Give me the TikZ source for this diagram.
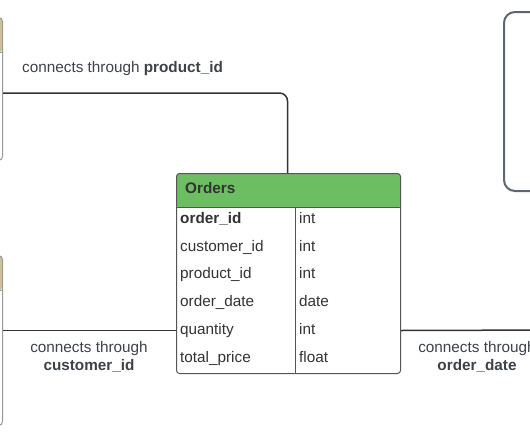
\documentclass[tikz,border=0pt]{standalone}
\usepackage{fontspec}
\setmainfont{Liberation Sans}
\definecolor{tanhead}{HTML}{CCC099}
\definecolor{greenhead}{HTML}{6DBE63}
\definecolor{txt}{HTML}{333333}
\definecolor{lbl}{HTML}{3D4148}
\definecolor{boxline}{HTML}{9A9A9A}
\definecolor{tblline}{HTML}{555555}
\definecolor{bigline}{HTML}{5F6670}
\begin{document}
\begin{tikzpicture}[x=1pt,y=-1pt,
  every node/.style={font=\fontsize{15.3}{18}\selectfont, text=txt, inner sep=0pt},
  sidebox/.style={draw=boxline, line width=1pt, rounded corners=4pt, fill=white,
    path picture={\fill[tanhead] (path picture bounding box.north west) rectangle ([yshift=-35pt]path picture bounding box.north east);
      \draw[boxline, line width=1pt] ([yshift=-35pt]path picture bounding box.north west) -- ([yshift=-35pt]path picture bounding box.north east);}},
  tbl/.style={draw=tblline, line width=1pt, rounded corners=3pt, fill=white,
    path picture={\fill[greenhead] (path picture bounding box.north west) rectangle ([yshift=-34pt]path picture bounding box.north east);}},
  conn/.style={draw=txt, line width=1.5pt, rounded corners=8pt},
  cell/.style={anchor=west},
  lab/.style={text=lbl, align=center}
]
\useasboundingbox (0,0) rectangle (530,442);
\clip (0,0) rectangle (530,442);

% partially visible boxes
\node[sidebox, minimum width=153pt, minimum height=143pt, anchor=north east] (products) at (3,17) {};
\node[sidebox, minimum width=153pt, minimum height=170pt, anchor=north east] (customers) at (3,255) {};
\node[draw=bigline, line width=2pt, rounded corners=11pt, minimum width=200pt, minimum height=179pt, anchor=north west] (dates) at (503,11) {};

% Orders table
\node[tbl, minimum width=224pt, minimum height=200pt, anchor=north west] (orders) at (176,173) {};
\draw[tblline, line width=1pt] ([yshift=-34pt]orders.north west) -- ([yshift=-34pt]orders.north east);
\draw[tblline, line width=1pt] ([yshift=-34pt]orders.north west -| 295,0) -- (orders.south west -| 295,0);
\node[anchor=west, font=\fontsize{15.3}{18}\selectfont\bfseries] (otitle) at (185,188) {Orders};

\node[cell] (n1) at (180,220) {\strut\textbf{order\_id}};
\node[cell] (n2) at (180,248) {\strut customer\_id};
\node[cell] (n3) at (180,275) {\strut product\_id};
\node[cell] (n4) at (180,303) {\strut order\_date};
\node[cell] (n5) at (180,331) {\strut quantity};
\node[cell] (n6) at (180,359) {\strut total\_price};
\node[cell] (t1) at (299,220) {\strut int};
\node[cell] (t2) at (299,248) {\strut int};
\node[cell] (t3) at (299,275) {\strut int};
\node[cell] (t4) at (299,303) {\strut date};
\node[cell] (t5) at (299,331) {\strut int};
\node[cell] (t6) at (299,359) {\strut float};

% connectors
\draw[conn] ([yshift=-76pt]products.north east) -| ([xshift=-1pt]orders.north);
\coordinate (cl) at ([yshift=-57pt]orders.west);
\coordinate (cr) at ([yshift=-57pt]orders.east);
\draw[conn] (cl -| customers.east) -- (cl);
\coordinate (rend) at (560,330);
\draw[conn] (cr) -- (rend);

% labels
\node[lab, anchor=west] (l1) at (22,69) {\strut connects through \textbf{product\_id}};
\node[lab] (l2) at (89,357) {connects through\\\textbf{customer\_id}};
\node[lab] (l3) at (477,357) {connects through\\\textbf{order\_date}};
\end{tikzpicture}
\end{document}
